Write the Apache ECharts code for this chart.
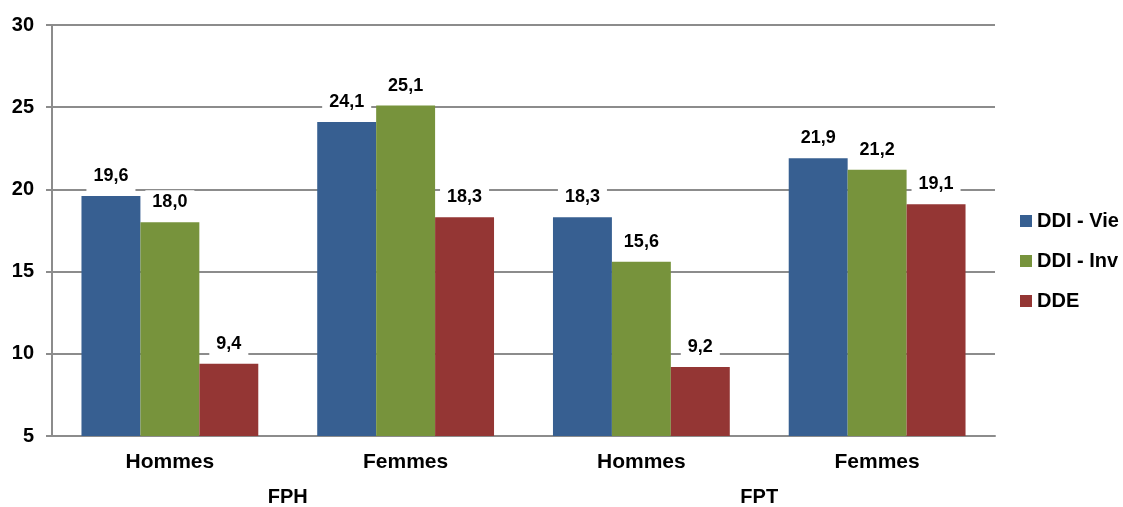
<!DOCTYPE html>
<html>
<head>
<meta charset="utf-8">
<script src="https://cdn.jsdelivr.net/npm/echarts@6/dist/echarts.min.js"></script>
<style>
  html, body { margin: 0; padding: 0; background: #fff; }
  #chart { width: 1123px; height: 507px; }
</style>
</head>
<body>
<div id="chart"></div>
<script>
// categories and groups
var categories = ['Hommes', 'Femmes', 'Hommes', 'Femmes'];
var groups = ['FPH', 'FPT'];
var yTicks = [5, 10, 15, 20, 25, 30];

// series values
var ddiVie = [19.6, 24.1, 18.3, 21.9];
var ddiInv = [18.0, 25.1, 15.6, 21.2];
var dde = [9.4, 18.3, 9.2, 19.1];

var gridColor = '#8c8c8c';
var font = 'Arial, "Liberation Sans", sans-serif';

function barLabel() {
  return {
    show: true,
    position: 'top',
    distance: 2,
    color: '#000',
    fontFamily: font,
    fontWeight: 'bold',
    fontSize: 18,
    backgroundColor: '#fff',
    padding: [3, 7, 9, 7],
    formatter: function (p) { return p.value.toFixed(1).replace('.', ','); }
  };
}

var myChart = echarts.init(document.getElementById('chart'));
myChart.setOption({
  animation: false,
  textStyle: { fontFamily: font },
  grid: { left: 52, right: 128, top: 25, bottom: 71, containLabel: false },
  legend: {
    orient: 'vertical',
    left: 1020,
    top: 211,
    padding: 0,
    itemWidth: 12,
    itemHeight: 12,
    itemGap: 20,
    icon: 'rect',
    textStyle: { fontFamily: font, fontWeight: 'bold', fontSize: 20, color: '#000' },
    data: ['DDI - Vie', 'DDI - Inv', 'DDE']
  },
  xAxis: [{
    type: 'category',
    data: categories,
    axisLine: { lineStyle: { color: gridColor, width: 2 } },
    axisTick: { show: false },
    axisLabel: { color: '#000', fontWeight: 'bold', fontSize: 21, margin: 16 }
  }, {
    type: 'category',
    data: groups,
    position: 'bottom',
    offset: 35,
    axisLine: { show: false },
    axisTick: { show: false },
    axisLabel: { color: '#000', fontWeight: 'bold', fontSize: 20, margin: 16 }
  }],
  yAxis: {
    type: 'value',
    min: yTicks[0],
    max: yTicks[yTicks.length - 1],
    interval: 5,
    axisLine: { show: true, lineStyle: { color: gridColor, width: 2 } },
    axisTick: { show: true, length: 6, lineStyle: { color: gridColor, width: 2 } },
    axisLabel: { color: '#000', fontWeight: 'bold', fontSize: 20, margin: 18 },
    splitLine: { lineStyle: { color: gridColor, width: 2 } }
  },
  series: [{
    name: 'DDI - Vie',
    type: 'bar',
    data: ddiVie,
    barGap: '0%',
    barCategoryGap: '25%',
    itemStyle: { color: '#375f91' },
    label: barLabel()
  }, {
    name: 'DDI - Inv',
    type: 'bar',
    data: ddiInv,
    itemStyle: { color: '#77933c' },
    label: barLabel()
  }, {
    name: 'DDE',
    type: 'bar',
    data: dde,
    itemStyle: { color: '#943634' },
    label: barLabel()
  }]
});
</script>
</body>
</html>
